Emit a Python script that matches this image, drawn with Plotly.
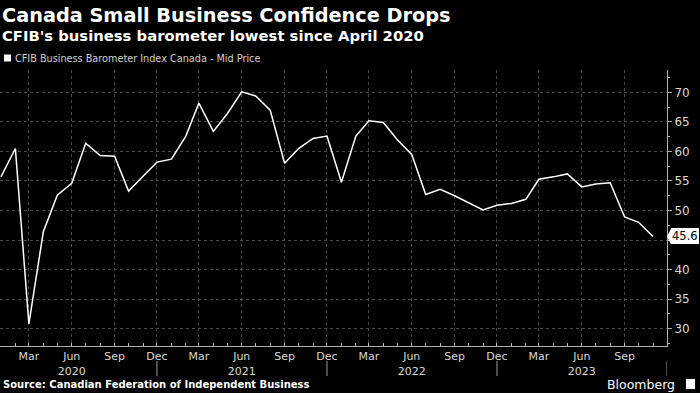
import plotly.graph_objects as go
import pandas as pd

dates = pd.date_range("2020-01-01", "2023-11-01", freq="MS")
values = [55.7, 60.5, 30.8, 46.4, 52.6, 54.6, 61.4, 59.3, 59.2, 53.3, 55.8, 58.2,
          58.7, 62.6, 68.2, 63.4, 66.4, 70.1, 69.4, 67.0, 58.0, 60.5, 62.2, 62.6,
          54.8, 62.6, 65.2, 64.9, 62.0, 59.5, 52.7, 53.6, 52.5, 51.3, 50.1, 50.9,
          51.2, 51.9, 55.3, 55.7, 56.2, 54.0, 54.5, 54.7, 48.9, 48.0, 45.6]
series_name = "CFIB Business Barometer Index Canada - Mid Price"
title = "Canada Small Business Confidence Drops"
subtitle = "CFIB's business barometer lowest since April 2020"
source = "Source: Canadian Federation of Independent Business"
y_ticks = [30, 35, 40, 45, 50, 55, 60, 65, 70]

tick_dates = pd.date_range("2020-03-01", "2023-09-01", freq="3MS")
tick_text = []
for d in tick_dates:
    lab = d.strftime("%b")
    if d.month == 6:
        lab += "<br>" + str(d.year)
    tick_text.append(lab)
year_sep = ["2020-12-01", "2021-12-01", "2022-12-01", "2023-12-01"]

# the last-value badge covers the tick label nearest to it
last = values[-1]
y_text = ["" if abs(v - last) < 2.5 else str(v) for v in y_ticks]

W, H = 700, 393
ML, MR, MT, MB = 0, 33, 70, 47
PH = H - MT - MB


def py(Y):
    return (H - MB - Y) / PH


def px(X):
    return (X - ML) / (W - ML - MR)


fig = go.Figure()
fig.add_trace(go.Scatter(x=dates, y=values, mode="lines", name=series_name,
                         line=dict(color="white", width=1.5), showlegend=False))

font = "DejaVu Sans"
fig.update_layout(
    width=W, height=H,
    margin=dict(l=ML, r=MR, t=MT, b=MB),
    paper_bgcolor="black", plot_bgcolor="black",
    font=dict(family=font, color="#d8d8d8", size=11),
    xaxis=dict(
        range=["2019-12-30", "2023-12-01"],
        tickvals=tick_dates, ticktext=tick_text,
        showgrid=True, gridcolor="#4a4a4a", griddash="dot", gridwidth=1,
        showline=True, linecolor="#b0b0b0", linewidth=1,
        ticks="inside", ticklen=3, tickcolor="#b0b0b0",
        minor=dict(dtick="M1", ticks="inside", ticklen=3, tickcolor="#b0b0b0", showgrid=False),
        tickfont=dict(size=11, color="#d8d8d8"),
        zeroline=False,
    ),
    yaxis=dict(
        side="right", range=[27.05, 73.8], tickvals=y_ticks, ticktext=y_text,
        showgrid=True, gridcolor="#4a4a4a", griddash="dot", gridwidth=1,
        showline=True, linecolor="#b0b0b0", linewidth=1,
        ticks="outside", ticklen=4, tickcolor="#b0b0b0",
        minor=dict(dtick=2.5, ticks="outside", ticklen=2, tickcolor="#b0b0b0", showgrid=False),
        tickfont=dict(size=12, color="#d8d8d8"),
        zeroline=False,
    ),
    showlegend=False,
)

ann = [
    dict(text="<b>" + title + "</b>", x=px(0), y=py(15), font=dict(size=19.3, color="white")),
    dict(text="<b>" + subtitle + "</b>", x=px(0), y=py(36), font=dict(size=14.8, color="white")),
    dict(text=series_name, x=px(13), y=py(58), font=dict(size=9.7, color="#d0d0d0")),
    dict(text="<b>" + source + "</b>", x=px(1), y=py(384), font=dict(size=10, color="white")),
    dict(text="Bloomberg", x=px(677), y=py(384), xanchor="right", font=dict(size=12.5, color="white")),
]
for a in ann:
    a.setdefault("xanchor", "left")
    fig.add_annotation(xref="paper", yref="paper", yanchor="middle", showarrow=False, **a)

# last value label
fig.add_annotation(xref="paper", yref="y", x=px(670.5), y=last, xanchor="left", yanchor="middle",
                   text=f"{last:.1f}", showarrow=False, bgcolor="white", borderpad=1, borderwidth=0,
                   font=dict(size=11.5, color="black"))
fig.add_shape(type="path", xref="paper", yref="y",
              path=f"M {px(667)},{last} L {px(671)},{last+1.3} L {px(671)},{last-1.3} Z",
              fillcolor="white", line=dict(width=0))

# legend square
fig.add_shape(type="rect", xref="paper", yref="paper", x0=px(4), x1=px(11), y0=py(61.5), y1=py(54.5),
              fillcolor="white", line=dict(width=0))

# year separators
for d in year_sep:
    fig.add_shape(type="line", xref="x", yref="paper", x0=d, x1=d, y0=py(361), y1=py(376),
                  line=dict(color="#9a9a9a", width=1))

# bloomberg icon
fig.add_shape(type="rect", xref="paper", yref="paper", x0=px(686), x1=px(695), y0=py(389), y1=py(379),
              fillcolor="white", line=dict(width=0))

fig.write_html("out.html", config={"displayModeBar": False},
               post_script="document.body.style.margin='0';document.body.style.overflow='hidden';")
